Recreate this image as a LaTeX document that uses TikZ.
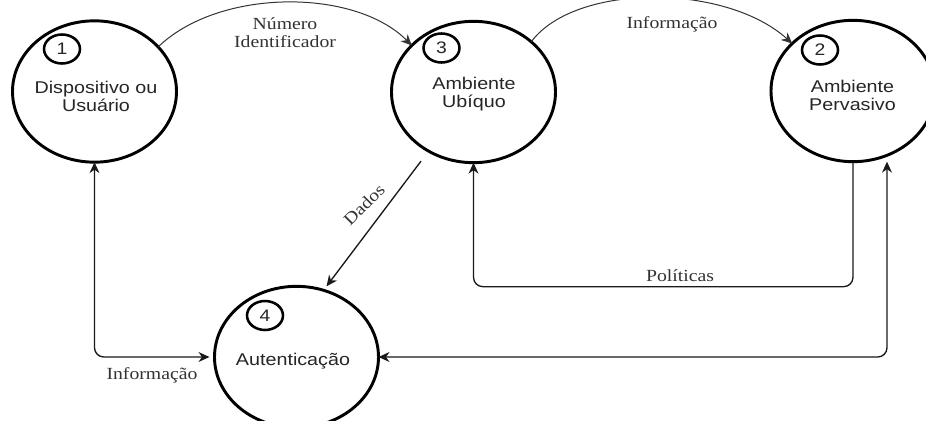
\documentclass[tikz,border=0pt]{standalone}
\usepackage{fontspec}
\setmainfont{Liberation Serif}[FakeStretch=1.16]
\newfontfamily\labelsans{Liberation Sans}[FakeStretch=1.16]
\usetikzlibrary{shapes.geometric,arrows.meta,calc}

\tikzset{
  process/.style={ellipse, draw=black, line width=2.2pt, minimum width=123pt,
    minimum height=106pt, inner sep=0pt, outer sep=0pt},
  badge/.style={ellipse, draw=black, line width=1.9pt, minimum width=27pt,
    minimum height=21.75pt, inner sep=0pt, outer sep=0pt, text=black!85,
    font=\labelsans\fontsize{12.5pt}{13pt}\selectfont},
  ptext/.style={font=\labelsans\fontsize{12.75pt}{13.5pt}\selectfont,
    text=black!85, align=center, inner sep=0pt},
  etext/.style={font=\fontsize{12.75pt}{13.5pt}\selectfont,
    text=black!80, align=center, inner sep=0pt},
  flow/.style={line width=1pt, draw=black!90},
  arcflow/.style={line width=0.75pt, draw=black!80},
}

\begin{document}
\begin{tikzpicture}[x=0.75pt, y=-0.75pt,
    >={Stealth[length=8.2pt, width=7.4pt, inset=2.6pt]}]
  \fill[white] (0,0) rectangle (926,421);
  \useasboundingbox (0,0) rectangle (926,421);
  \clip (0,0) rectangle (926,421);

  % processes
  \node[process] (c1) at (94.5,91.5) {};
  \node[process] (c3) at (473.5,92) {};
  \node[process] (c2) at (853,91) {};
  \node[process] (c4) at (296.5,357) {};

  % process numbers
  \node[badge] (b1) at (62,49) {1};
  \node[badge] (b3) at (441.5,48) {3};
  \node[badge] (b2) at (820,50) {2};
  \node[badge] (b4) at (265,315.5) {4};

  % process names
  \node[ptext] (t1) at (96,96.5) {Dispositivo ou\\Usuário};
  \node[ptext] (t3) at (474,94) {Ambiente\\Ubíquo};
  \node[ptext] (t2) at (852.5,95) {Ambiente\\Pervasivo};
  \node[ptext, anchor=base] (t4) at (293,365) {Autenticação};

  % data flows
  \draw[arcflow, ->] (c1.35) .. controls (219,-12) and (355,-12) .. (c3.143);
  \draw[arcflow, ->] (c3.41) .. controls (575,-17) and (725,-17) .. (c2.142);
  \draw[flow, ->] ($(c3.south)+(-52.5,-1.5)$) -- ($(c4.north)+(30,0)$);
  \draw[flow, <->, rounded corners=7pt] (c1.south) |- ($(c4.west)+(-5,0)$);
  \draw[flow, ->, rounded corners=7pt] (c2.south) -- ++(0,125) -| (c3.south);
  \draw[flow, <->, rounded corners=7pt] (c4.east) -| ($(c2.south)+(34,0)$);

  % flow labels
  \node[etext] (l1) at (285,33) {Número\\Identificador};
  \node[etext, anchor=base] (l2) at (672,28.5) {Informação};
  \node[etext, rotate=45] (l3) at (364,205) {Dados};
  \node[etext, anchor=base] (l4) at (152,379) {Informação};
  \node[etext, anchor=base] (l5) at (680,281.5) {Políticas};
\end{tikzpicture}
\end{document}
